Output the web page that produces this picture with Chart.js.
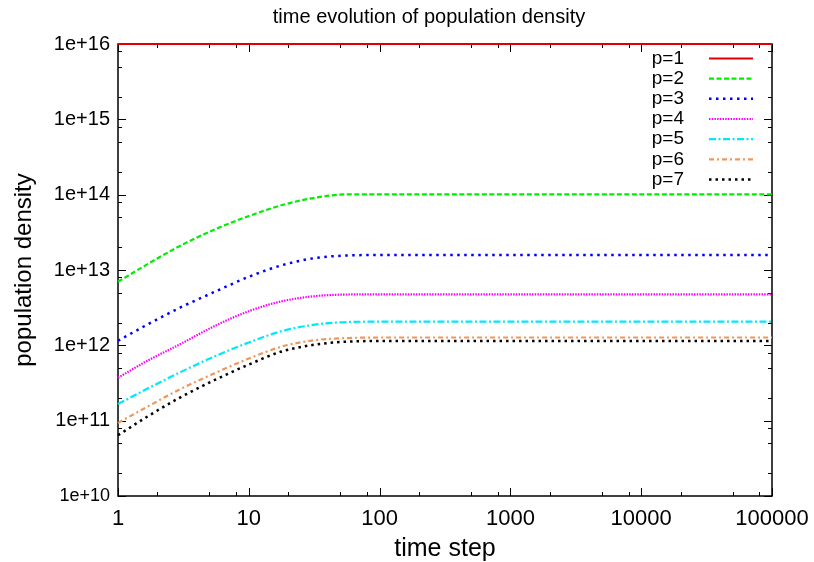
<!DOCTYPE html>
<html><head><meta charset="utf-8">
<script src="https://cdn.jsdelivr.net/npm/chart.js@4.4.1/dist/chart.umd.min.js"></script>
<style>html,body{margin:0;padding:0;background:#fff}</style>
</head><body>
<canvas id="c" width="814" height="562"></canvas>
<script>
// time steps (x) and population density series (y)
const steps = [1, 1.7, 3, 5.5, 10, 18, 32, 57, 100, 1000, 10000, 100000];
const p1 = [1e16, 1e16, 1e16, 1e16, 1e16, 1e16, 1e16, 1e16, 1e16, 1e16, 1e16, 1e16];
const p2 = [6.97e12, 1.21e13, 2.10e13, 3.46e13, 5.20e13, 7.28e13, 9.10e13, 1.01e14, 1.01e14, 1.01e14, 1.01e14, 1.01e14];
const p3 = [1.15e12, 1.91e12, 3.18e12, 5.14e12, 8.13e12, 1.16e13, 1.44e13, 1.56e13, 1.58e13, 1.58e13, 1.58e13, 1.58e13];
const p4 = [3.72e11, 6.31e11, 1.04e12, 1.81e12, 2.84e12, 3.85e12, 4.50e12, 4.73e12, 4.76e12, 4.76e12, 4.76e12, 4.76e12];
const p5 = [1.66e11, 2.69e11, 4.41e11, 7.16e11, 1.09e12, 1.55e12, 1.88e12, 2.04e12, 2.06e12, 2.06e12, 2.06e12, 2.06e12];
const p6 = [9.35e10, 1.55e11, 2.63e11, 4.27e11, 6.68e11, 9.66e11, 1.17e12, 1.25e12, 1.27e12, 1.27e12, 1.27e12, 1.27e12];
const p7 = [6.41e10, 1.15e11, 2.04e11, 3.47e11, 5.56e11, 8.32e11, 1.02e12, 1.12e12, 1.14e12, 1.14e12, 1.14e12, 1.14e12];
const seriesNames = ['p=1', 'p=2', 'p=3', 'p=4', 'p=5', 'p=6', 'p=7'];
const xTickValues = [1, 10, 100, 1000, 10000, 100000];
const yTickValues = [1e10, 1e11, 1e12, 1e13, 1e14, 1e15, 1e16];
const chartTitle = 'time evolution of population density';

const series = [p1, p2, p3, p4, p5, p6, p7];
const colors = ['#e00000', '#00ee00', '#0000ff', '#ff00ff', '#00e8ff', '#f0965a', '#000000'];
const dashes = [[], [5, 2.5], [2.5, 4.5], [1.5, 1.2], [7, 2.5, 2, 2.5], [5, 3, 2, 3], [2.5, 4]];
const widths = [2, 2.2, 2.5, 2.2, 2.2, 2.2, 2.5];

const FONT = "'Liberation Sans', Arial, sans-serif";
Chart.defaults.font.family = FONT;
Chart.defaults.color = '#000';

const datasets = series.map((vals, i) => ({
  label: seriesNames[i],
  data: steps.map((s, j) => ({ x: s, y: vals[j] })),
  borderColor: colors[i],
  backgroundColor: colors[i],
  borderDash: dashes[i],
  borderWidth: widths[i],
  pointRadius: 0,
  fill: false,
  cubicInterpolationMode: 'monotone',
  clip: 4
}));

function seg(ctx, x1, y1, x2, y2) { ctx.beginPath(); ctx.moveTo(x1, y1); ctx.lineTo(x2, y2); ctx.stroke(); }

const framePlugin = {
  id: 'frame',
  beforeDatasetsDraw(chart) {
    const { ctx, chartArea: a, scales: { x, y } } = chart;
    ctx.save();
    ctx.fillStyle = '#000';
    ctx.font = '20px ' + FONT;
    ctx.textAlign = 'center';
    ctx.textBaseline = 'middle';
    ctx.fillText(chartTitle, 429, 17);
    ctx.strokeStyle = '#000';
    ctx.lineWidth = 1.5;
    ctx.strokeRect(a.left, a.top, a.right - a.left, a.bottom - a.top);
    ctx.lineWidth = 1;
    for (let d = 0; d <= 5; d++) {
      for (const m of [1, 2, 5, 8]) {
        const v = Math.pow(10, d) * m;
        if (v > 100000) continue;
        const px = Math.round(x.getPixelForValue(v)) + 0.5;
        const len = m === 1 ? 8 : 4;
        seg(ctx, px, a.bottom, px, a.bottom - len);
        seg(ctx, px, a.top, px, a.top + len);
      }
    }
    for (let d = 10; d <= 16; d++) {
      for (const m of [1, 2, 5, 8]) {
        const v = Math.pow(10, d) * m;
        if (v > 1e16) continue;
        const py = Math.round(y.getPixelForValue(v)) + 0.5;
        const len = m === 1 ? 8 : 4;
        seg(ctx, a.left, py, a.left + len, py);
        seg(ctx, a.right, py, a.right - len, py);
      }
    }
    ctx.restore();
  }
};

const legendPlugin = {
  id: 'plegend',
  afterDatasetsDraw(chart) {
    const { ctx, chartArea: a } = chart;
    ctx.save();
    chart.data.datasets.forEach((ds, i) => {
      const yy = a.top + 14.5 + i * 20.17;
      ctx.fillStyle = '#000';
      ctx.font = '19px ' + FONT;
      ctx.textAlign = 'right';
      ctx.textBaseline = 'middle';
      ctx.fillText(ds.label, a.right - 88, yy);
      ctx.strokeStyle = ds.borderColor;
      ctx.lineWidth = ds.borderWidth;
      ctx.setLineDash(ds.borderDash);
      seg(ctx, a.right - 63, yy, a.right - 19, yy);
    });
    ctx.restore();
  }
};

new Chart(document.getElementById('c'), {
  type: 'line',
  data: { datasets },
  plugins: [framePlugin, legendPlugin],
  options: {
    responsive: false,
    animation: false,
    layout: { padding: { left: 0, right: 42, top: 44, bottom: 0 } },
    plugins: {
      legend: { display: false },
      tooltip: { enabled: false },
      title: { display: false }
    },
    scales: {
      x: {
        type: 'logarithmic',
        position: 'bottom',
        min: 1, max: 100000,
        afterBuildTicks: s => { s.ticks = xTickValues.map(v => ({ value: v })); },
        afterFit: s => { s.height = 66; s.paddingRight = 30; s.paddingLeft = 0; },
        grid: { display: false, drawTicks: false },
        border: { display: false },
        ticks: {
          padding: 10, color: '#000', autoSkip: false, maxRotation: 0,
          font: { size: 22, family: FONT },
          callback: v => String(v)
        },
        title: { display: true, text: 'time step', color: '#000', font: { size: 25, family: FONT }, padding: { top: 0, bottom: -2 } }
      },
      y: {
        type: 'logarithmic',
        position: 'left',
        min: 1e10, max: 1e16,
        afterBuildTicks: s => { s.ticks = yTickValues.map(v => ({ value: v })); },
        afterFit: s => { s.width = 118; },
        grid: { display: false, drawTicks: false },
        border: { display: false },
        ticks: {
          padding: 8, color: '#000', autoSkip: false,
          font: ctx => ({ size: (ctx.tick && ctx.tick.value === 1e10) ? 18 : 20, family: FONT }),
          callback: v => '1e+' + Math.round(Math.log10(v))
        },
        title: { display: true, text: 'population density', color: '#000', font: { size: 24, family: FONT }, padding: { top: 10, bottom: 0 } }
      }
    }
  }
});
</script>
</body></html>
